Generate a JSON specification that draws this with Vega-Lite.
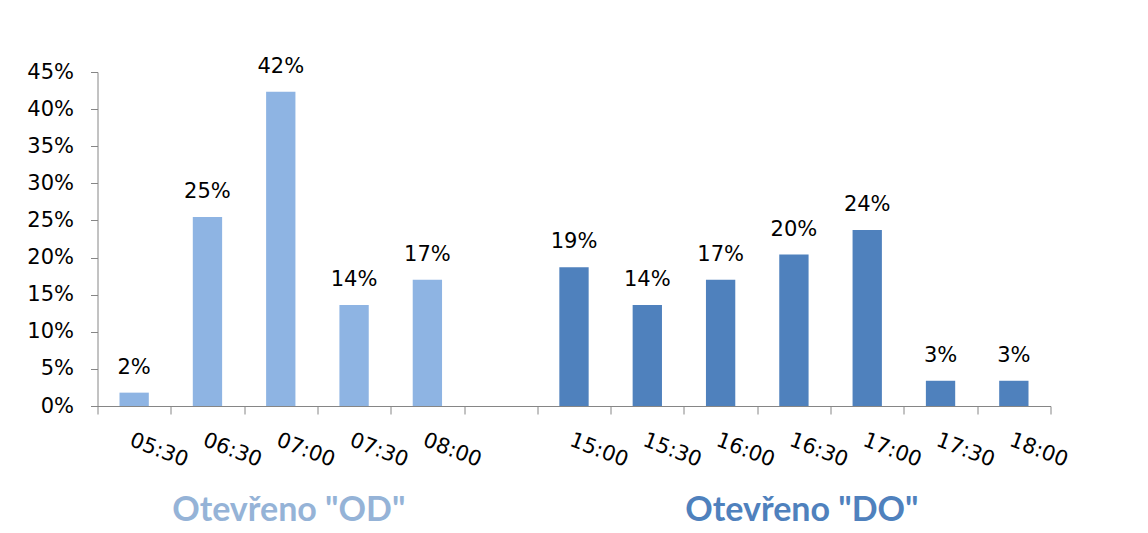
{
  "$schema": "https://vega.github.io/schema/vega-lite/v6.json",
  "width": 953,
  "height": 334,
  "autosize": {"type": "none"},
  "padding": {"left": 97.5, "top": 72, "right": 97.5, "bottom": 127},
  "background": "white",
  "config": {
    "view": {"stroke": null},
    "font": "DejaVu Sans",
    "axisY": {
      "values": [0, 0.05, 0.1, 0.15, 0.2, 0.25, 0.3, 0.35, 0.4, 0.45],
      "format": ".0%",
      "grid": false,
      "tickSize": 7,
      "labelPadding": 17,
      "labelFontSize": 21,
      "labelFont": "DejaVu Sans",
      "labelColor": "black",
      "labelOverlap": false,
      "labelBound": false,
      "labelFlush": false,
      "domainColor": "#868686",
      "tickColor": "#868686"
    }
  },
  "datasets": {
    "bars": [
      {"time": "05:30", "group": "OD", "value": 0.018},
      {"time": "06:30", "group": "OD", "value": 0.2545},
      {"time": "07:00", "group": "OD", "value": 0.4235},
      {"time": "07:30", "group": "OD", "value": 0.136},
      {"time": "08:00", "group": "OD", "value": 0.17},
      {"time": "15:00", "group": "DO", "value": 0.187},
      {"time": "15:30", "group": "DO", "value": 0.136},
      {"time": "16:00", "group": "DO", "value": 0.17},
      {"time": "16:30", "group": "DO", "value": 0.204},
      {"time": "17:00", "group": "DO", "value": 0.237},
      {"time": "17:30", "group": "DO", "value": 0.034},
      {"time": "18:00", "group": "DO", "value": 0.034}
    ],
    "groups": [
      {"time": "07:00", "group": "OD", "title": "Otevřeno \"OD\""},
      {"time": "16:30", "group": "DO", "title": "Otevřeno \"DO\""}
    ]
  },
  "encoding": {
    "x": {
      "field": "time",
      "type": "ordinal",
      "scale": {
        "domain": ["05:30", "06:30", "07:00", "07:30", "08:00", " ", "15:00", "15:30", "16:00", "16:30", "17:00", "17:30", "18:00"],
        "paddingInner": 0,
        "paddingOuter": 0
      },
      "axis": {
        "title": null,
        "tickBand": "extent",
        "tickSize": 8,
        "labelAngle": 21,
        "labelAlign": "left",
        "labelBaseline": "top",
        "labelPadding": 15,
        "labelFontSize": 21,
        "labelFont": "DejaVu Sans",
        "labelColor": "black",
        "labelBound": false,
        "labelOverlap": false,
        "labelFlush": false,
        "domainColor": "#868686",
        "tickColor": "#868686"
      }
    }
  },
  "layer": [
    {
      "data": {"name": "bars"},
      "mark": {"type": "bar", "width": {"band": 0.4}},
      "encoding": {
        "y": {
          "field": "value",
          "type": "quantitative",
          "scale": {"domain": [0, 0.45], "nice": false},
          "axis": {"title": null}
        },
        "color": {
          "field": "group",
          "type": "nominal",
          "scale": {"domain": ["OD", "DO"], "range": ["#8EB4E3", "#4F81BD"]},
          "legend": null
        }
      }
    },
    {
      "data": {"name": "bars"},
      "mark": {"type": "text", "dy": -19, "baseline": "alphabetic", "fontSize": 21, "font": "DejaVu Sans", "color": "black"},
      "encoding": {
        "y": {"field": "value", "type": "quantitative", "axis": {"title": null}},
        "text": {"field": "value", "type": "quantitative", "format": ".0%"}
      }
    },
    {
      "data": {"name": "groups"},
      "mark": {"type": "text", "font": "Lato", "fontWeight": "bold", "fontSize": 34, "baseline": "alphabetic", "dx": 8},
      "encoding": {
        "y": {"datum": -0.155, "type": "quantitative", "axis": {"title": null}},
        "text": {"field": "title", "type": "nominal"},
        "color": {
          "field": "group",
          "type": "nominal",
          "scale": {"domain": ["OD", "DO"], "range": ["#95B3D7", "#4F81BD"]},
          "legend": null
        }
      }
    }
  ],
  "resolve": {"scale": {"color": "independent"}}
}
